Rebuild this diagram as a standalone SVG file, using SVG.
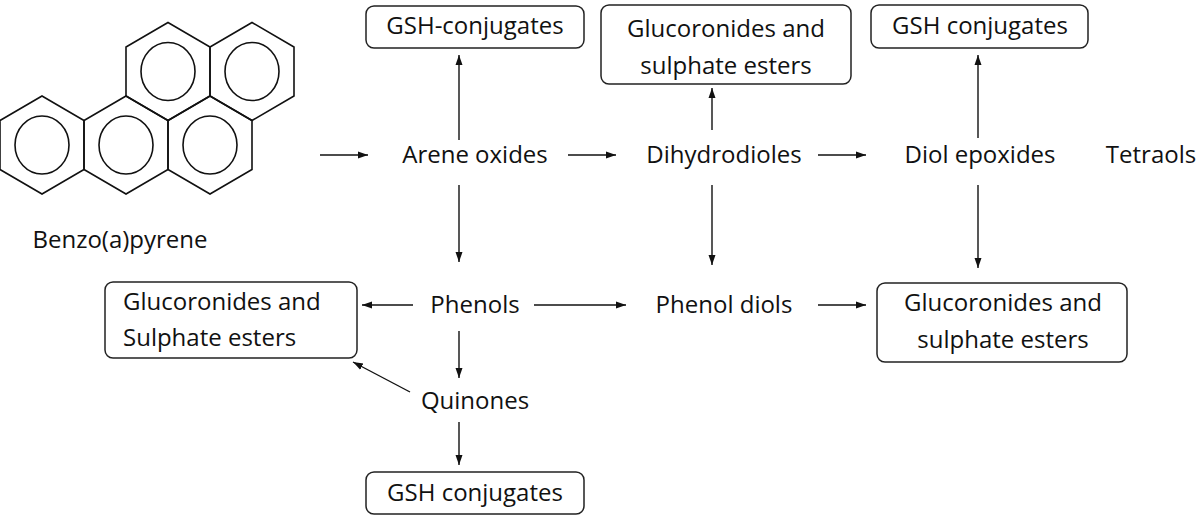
<svg xmlns="http://www.w3.org/2000/svg" width="1200" height="523" viewBox="0 0 1200 523">
<style>
text{font-family:"Open Sans","Liberation Sans",sans-serif;font-size:24px;fill:#111;text-anchor:middle}
.box{fill:#fff;stroke:#222;stroke-width:1.5}
.c line{stroke:#111;stroke-width:1.4;marker-end:url(#a)}
.m{fill:none;stroke:#111;stroke-width:1.6}
</style>
<defs>
<marker id="a" viewBox="0 0 10 10" refX="10" refY="5" markerWidth="10" markerHeight="10" markerUnits="userSpaceOnUse" orient="auto"><path d="M0,1.5 L10,5 L0,8.5 z" fill="#111"/></marker>
<g id="hex"><polygon points="0,-49 42,-24.5 42,24.5 0,49 -42,24.5 -42,-24.5"/><ellipse rx="27" ry="29"/></g>
</defs>
<rect width="1200" height="523" fill="#fff"/>
<g id="benzopyrene" class="m">
<use href="#hex" x="42" y="145"/><use href="#hex" x="126" y="145"/><use href="#hex" x="210" y="145"/>
<use href="#hex" x="168" y="71.5"/><use href="#hex" x="252" y="71.5"/>
</g>
<text x="120" y="248">Benzo(a)pyrene</text>
<g id="arene"><text x="475" y="163">Arene oxides</text></g>
<g id="dihydro"><text x="724" y="163">Dihydrodioles</text></g>
<g id="diolep"><text x="980" y="163">Diol epoxides</text></g>
<g id="tetraols"><text x="1151" y="163">Tetraols</text></g>
<g id="gsh1"><rect class="box" x="366" y="6" width="218" height="42" rx="8"/><text x="475" y="34">GSH-conjugates</text></g>
<g id="gluc1"><rect class="box" x="601" y="5" width="250" height="79" rx="8"/><text x="726" y="37">Glucoronides and</text><text x="726" y="74">sulphate esters</text></g>
<g id="gsh2"><rect class="box" x="871" y="5" width="217" height="43" rx="8"/><text x="980" y="34">GSH conjugates</text></g>
<g id="phenols"><text x="475" y="313">Phenols</text></g>
<g id="phenoldiols"><text x="724" y="313">Phenol diols</text></g>
<g id="gluc2"><rect class="box" x="105" y="282" width="252" height="76" rx="8"/><text x="123" y="310" style="text-anchor:start">Glucoronides and</text><text x="123" y="346" style="text-anchor:start">Sulphate esters</text></g>
<g id="gluc3"><rect class="box" x="877" y="283" width="250" height="79" rx="8"/><text x="1003" y="311">Glucoronides and</text><text x="1003" y="348">sulphate esters</text></g>
<g id="quinones"><text x="475" y="409">Quinones</text></g>
<g id="gsh3"><rect class="box" x="366" y="472" width="218" height="42" rx="8"/><text x="475" y="501">GSH conjugates</text></g>
<g class="c" id="connectors">
<line x1="320" y1="155" x2="368" y2="155"/>
<line x1="568" y1="155" x2="616" y2="155"/>
<line x1="818" y1="155" x2="866" y2="155"/>
<line x1="459" y1="140" x2="459" y2="55"/>
<line x1="712" y1="130" x2="712" y2="88"/>
<line x1="978" y1="138" x2="978" y2="55"/>
<line x1="459" y1="185" x2="459" y2="262"/>
<line x1="712" y1="185" x2="712" y2="265"/>
<line x1="978" y1="185" x2="978" y2="268"/>
<line x1="413" y1="305" x2="362" y2="305"/>
<line x1="534" y1="305" x2="626" y2="305"/>
<line x1="818" y1="305" x2="866" y2="305"/>
<line x1="459" y1="331" x2="459" y2="378"/>
<line x1="410" y1="392" x2="353" y2="362"/>
<line x1="459" y1="422" x2="459" y2="465"/>
</g>
</svg>
